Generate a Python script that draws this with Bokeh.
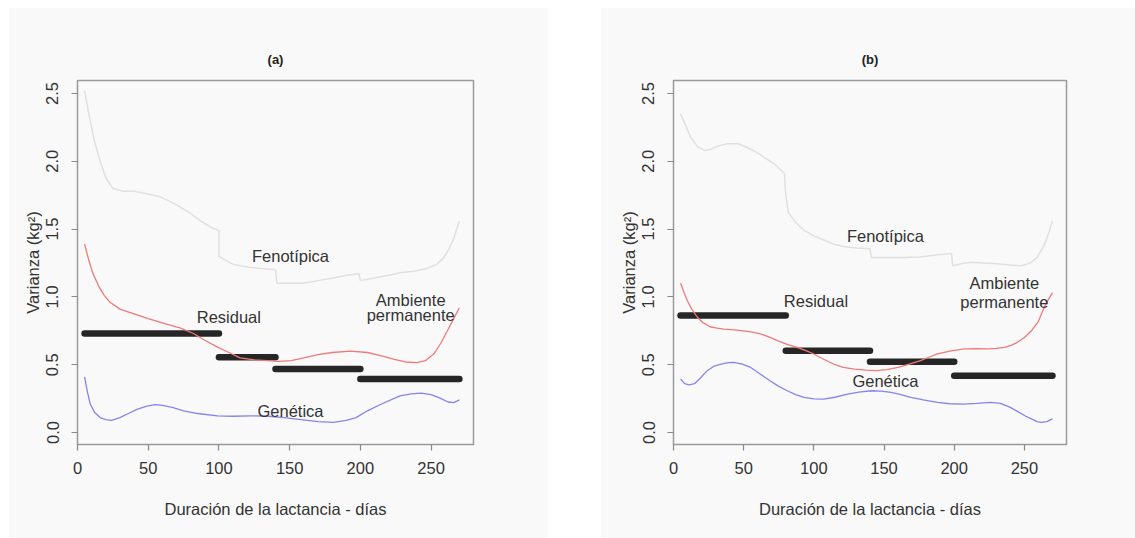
from bokeh.plotting import figure
from bokeh.layouts import row, column
from bokeh.models import FixedTicker, NumeralTickFormatter, Range1d, Spacer
from bokeh.core.properties import value
from bokeh.embed import file_html
from bokeh.resources import INLINE

# ---------------- data ----------------
x_ticks = [0, 50, 100, 150, 200, 250]
y_ticks = [0.0, 0.5, 1.0, 1.5, 2.0, 2.5]

# Panel (a)
a_phen_x = [5, 8, 12, 16, 20, 25, 32, 40, 49, 58, 68, 78, 87, 95, 100, 100, 105, 110, 120, 130, 140, 141,
            150, 160, 170, 181, 190, 199, 200, 210, 220, 229, 238, 247, 254, 259, 263, 266, 270]
a_phen_y = [2.52, 2.35, 2.15, 2.0, 1.88, 1.80, 1.78, 1.78, 1.76, 1.74, 1.69, 1.63, 1.56, 1.51, 1.49, 1.30,
            1.27, 1.24, 1.22, 1.21, 1.20, 1.10, 1.10, 1.10, 1.12, 1.14, 1.16, 1.17, 1.12, 1.14, 1.16, 1.18,
            1.19, 1.21, 1.24, 1.29, 1.36, 1.43, 1.56]
a_perm_x = [5, 8, 11, 15, 19, 23, 30, 40, 50, 63, 73, 82, 90, 99, 107, 115, 125, 134, 142, 151, 160, 170,
            180, 193, 205, 215, 224, 232, 240, 246, 252, 257, 262, 266, 270]
a_perm_y = [1.39, 1.27, 1.17, 1.08, 1.01, 0.96, 0.91, 0.875, 0.84, 0.80, 0.77, 0.73, 0.68, 0.63, 0.59, 0.55,
            0.535, 0.53, 0.525, 0.53, 0.55, 0.575, 0.59, 0.60, 0.59, 0.565, 0.54, 0.52, 0.515, 0.53, 0.58,
            0.66, 0.76, 0.84, 0.92]
a_gen_x = [5, 7, 9, 12, 16, 20, 24, 30, 36, 42, 49, 55, 60, 67, 75, 85, 99, 110, 122, 135, 146, 158, 170,
           181, 190, 197, 205, 215, 228, 236, 243, 250, 256, 262, 266, 270]
a_gen_y = [0.41, 0.30, 0.21, 0.15, 0.11, 0.095, 0.09, 0.11, 0.14, 0.17, 0.195, 0.205, 0.20, 0.185, 0.16,
           0.14, 0.123, 0.12, 0.123, 0.12, 0.11, 0.095, 0.08, 0.074, 0.09, 0.11, 0.16, 0.21, 0.27, 0.285,
           0.29, 0.28, 0.255, 0.225, 0.22, 0.24]
a_res_start = [5, 100, 140, 200]
a_res_end = [100, 140, 200, 270]
a_res_val = [0.73, 0.555, 0.468, 0.394]
a_lab_text = ["Fenotípica", "Residual", "Ambiente", "permanente", "Genética"]
a_lab_x = [150.6, 107, 235.6, 235.6, 150.6]
a_lab_y = [1.305, 0.85, 0.975, 0.87, 0.16]

# Panel (b)
b_phen_x = [5, 8, 12, 17, 22, 27, 31, 38, 46, 53, 60, 66, 72, 76, 79, 80, 82, 87, 93, 100, 107, 114, 122,
            130, 140, 141, 150, 164, 175, 184, 192, 198, 199, 205, 212, 220, 231, 240, 248, 254, 259, 263,
            266, 270]
b_phen_y = [2.35, 2.28, 2.18, 2.11, 2.08, 2.09, 2.11, 2.13, 2.13, 2.10, 2.06, 2.02, 1.98, 1.94, 1.91, 1.75,
            1.62, 1.55, 1.49, 1.45, 1.42, 1.39, 1.37, 1.36, 1.355, 1.29, 1.29, 1.29, 1.295, 1.305, 1.315,
            1.32, 1.23, 1.245, 1.256, 1.25, 1.244, 1.235, 1.23, 1.25, 1.29, 1.36, 1.43, 1.56]
b_perm_x = [5, 8, 10, 13, 17, 21, 26, 31, 36, 43, 50, 56, 62, 68, 74, 81, 88, 94, 100, 107, 114, 121, 129,
            137, 145, 152, 160, 168, 176, 182, 188, 197, 207, 216, 224, 230, 236, 241, 245, 250, 255, 260,
            264, 267, 270]
b_perm_y = [1.10, 1.02, 0.97, 0.91, 0.85, 0.81, 0.78, 0.77, 0.763, 0.757, 0.75, 0.74, 0.727, 0.705, 0.677,
            0.65, 0.628, 0.605, 0.579, 0.54, 0.505, 0.48, 0.468, 0.46, 0.456, 0.463, 0.48, 0.505, 0.53,
            0.555, 0.58, 0.60, 0.616, 0.618, 0.616, 0.62, 0.628, 0.645, 0.665, 0.70, 0.75, 0.82, 0.92,
            0.98, 1.03]
b_gen_x = [5, 8, 11, 15, 19, 24, 29, 34, 39, 43, 49, 55, 62, 69, 75, 81, 87, 93, 100, 107, 115, 124, 132,
           141, 148, 155, 162, 169, 178, 188, 197, 207, 216, 226, 233, 240, 246, 251, 255, 259, 262, 266, 270]
b_gen_y = [0.394, 0.36, 0.352, 0.36, 0.40, 0.456, 0.49, 0.505, 0.515, 0.517, 0.505, 0.48, 0.43, 0.38, 0.34,
           0.308, 0.28, 0.259, 0.248, 0.246, 0.26, 0.283, 0.298, 0.308, 0.305, 0.296, 0.28, 0.259, 0.24,
           0.222, 0.212, 0.209, 0.215, 0.222, 0.215, 0.185, 0.15, 0.12, 0.10, 0.08, 0.074, 0.08, 0.10]
b_res_start = [5, 80, 140, 200]
b_res_end = [80, 140, 200, 270]
b_res_val = [0.862, 0.603, 0.522, 0.419]
b_lab_text = ["Fenotípica", "Residual", "Ambiente", "permanente", "Genética"]
b_lab_x = [151, 101.5, 235.7, 235.7, 151]
b_lab_y = [1.45, 0.97, 1.10, 0.96, 0.38]

x_title = "Duración de la lactancia - días"
y_title = "Varianza (kg²)"

FONT = "Liberation Sans"
BG = "#f9f9f9"
TXT = "#333333"


def make_panel(tag, width, bl, br, phen, perm, gen, res, labs):
    p = figure(width=width, height=531, output_backend="svg", toolbar_location=None,
               x_range=Range1d(0, 280), y_range=Range1d(-0.0885, 2.596),
               min_border_left=bl, min_border_right=br, min_border_top=73, min_border_bottom=94,
               background_fill_color=BG, border_fill_color=BG)
    p.outline_line_color = "#9a9a9a"
    p.outline_line_width = 1.5
    p.grid.visible = False

    p.title.text = tag
    p.title.align = "center"
    p.title.text_font = FONT
    p.title.text_font_size = "13px"
    p.title.text_font_style = "bold"
    p.title.text_color = "#222222"
    p.title.standoff = 27

    p.line(phen[0], phen[1], line_color="#e0e0e0", line_width=1.5)
    p.segment(x0=res[0], y0=res[2], x1=res[1], y1=res[2], line_color="#262626",
              line_width=6.5, line_cap="round")
    p.line(perm[0], perm[1], line_color="#f07a7a", line_width=1.3)
    p.line(gen[0], gen[1], line_color="#8484f0", line_width=1.3)

    p.text(x=labs[1], y=labs[2], text=labs[0], text_align="center", text_baseline="middle",
           text_font=value(FONT), text_font_size="16.5px", text_color=TXT)

    for ax in (p.xaxis[0], p.yaxis[0]):
        ax.axis_line_color = None
        ax.major_tick_line_color = "#888888"
        ax.major_tick_line_width = 1.2
        ax.major_tick_in = 0
        ax.major_tick_out = 6
        ax.minor_tick_line_color = None
        ax.major_label_text_font = FONT
        ax.major_label_text_font_size = "16.5px"
        ax.major_label_text_color = TXT
        ax.axis_label_text_font = FONT
        ax.axis_label_text_font_size = "16.5px"
        ax.axis_label_text_font_style = "normal"
        ax.axis_label_text_color = TXT

    p.xaxis.ticker = FixedTicker(ticks=x_ticks)
    p.yaxis.ticker = FixedTicker(ticks=y_ticks)
    p.yaxis.formatter = NumeralTickFormatter(format="0.0")
    p.yaxis.major_label_orientation = "vertical"
    p.xaxis.axis_label = x_title
    p.yaxis.axis_label = y_title
    p.xaxis.major_label_standoff = 11
    p.yaxis.major_label_standoff = 13
    p.xaxis.axis_label_standoff = 23
    p.yaxis.axis_label_standoff = 2
    return p


pa = make_panel("(a)", 540, 69, 75,
                (a_phen_x, a_phen_y), (a_perm_x, a_perm_y), (a_gen_x, a_gen_y),
                (a_res_start, a_res_end, a_res_val), (a_lab_text, a_lab_x, a_lab_y))
pb = make_panel("(b)", 535, 73, 69,
                (b_phen_x, b_phen_y), (b_perm_x, b_perm_y), (b_gen_x, b_gen_y),
                (b_res_start, b_res_end, b_res_val), (b_lab_text, b_lab_x, b_lab_y))

layout = row(Spacer(width=8), column(Spacer(height=7), pa), Spacer(width=52),
             column(Spacer(height=7), pb))

open("out.html", "w").write(file_html(layout, INLINE))
